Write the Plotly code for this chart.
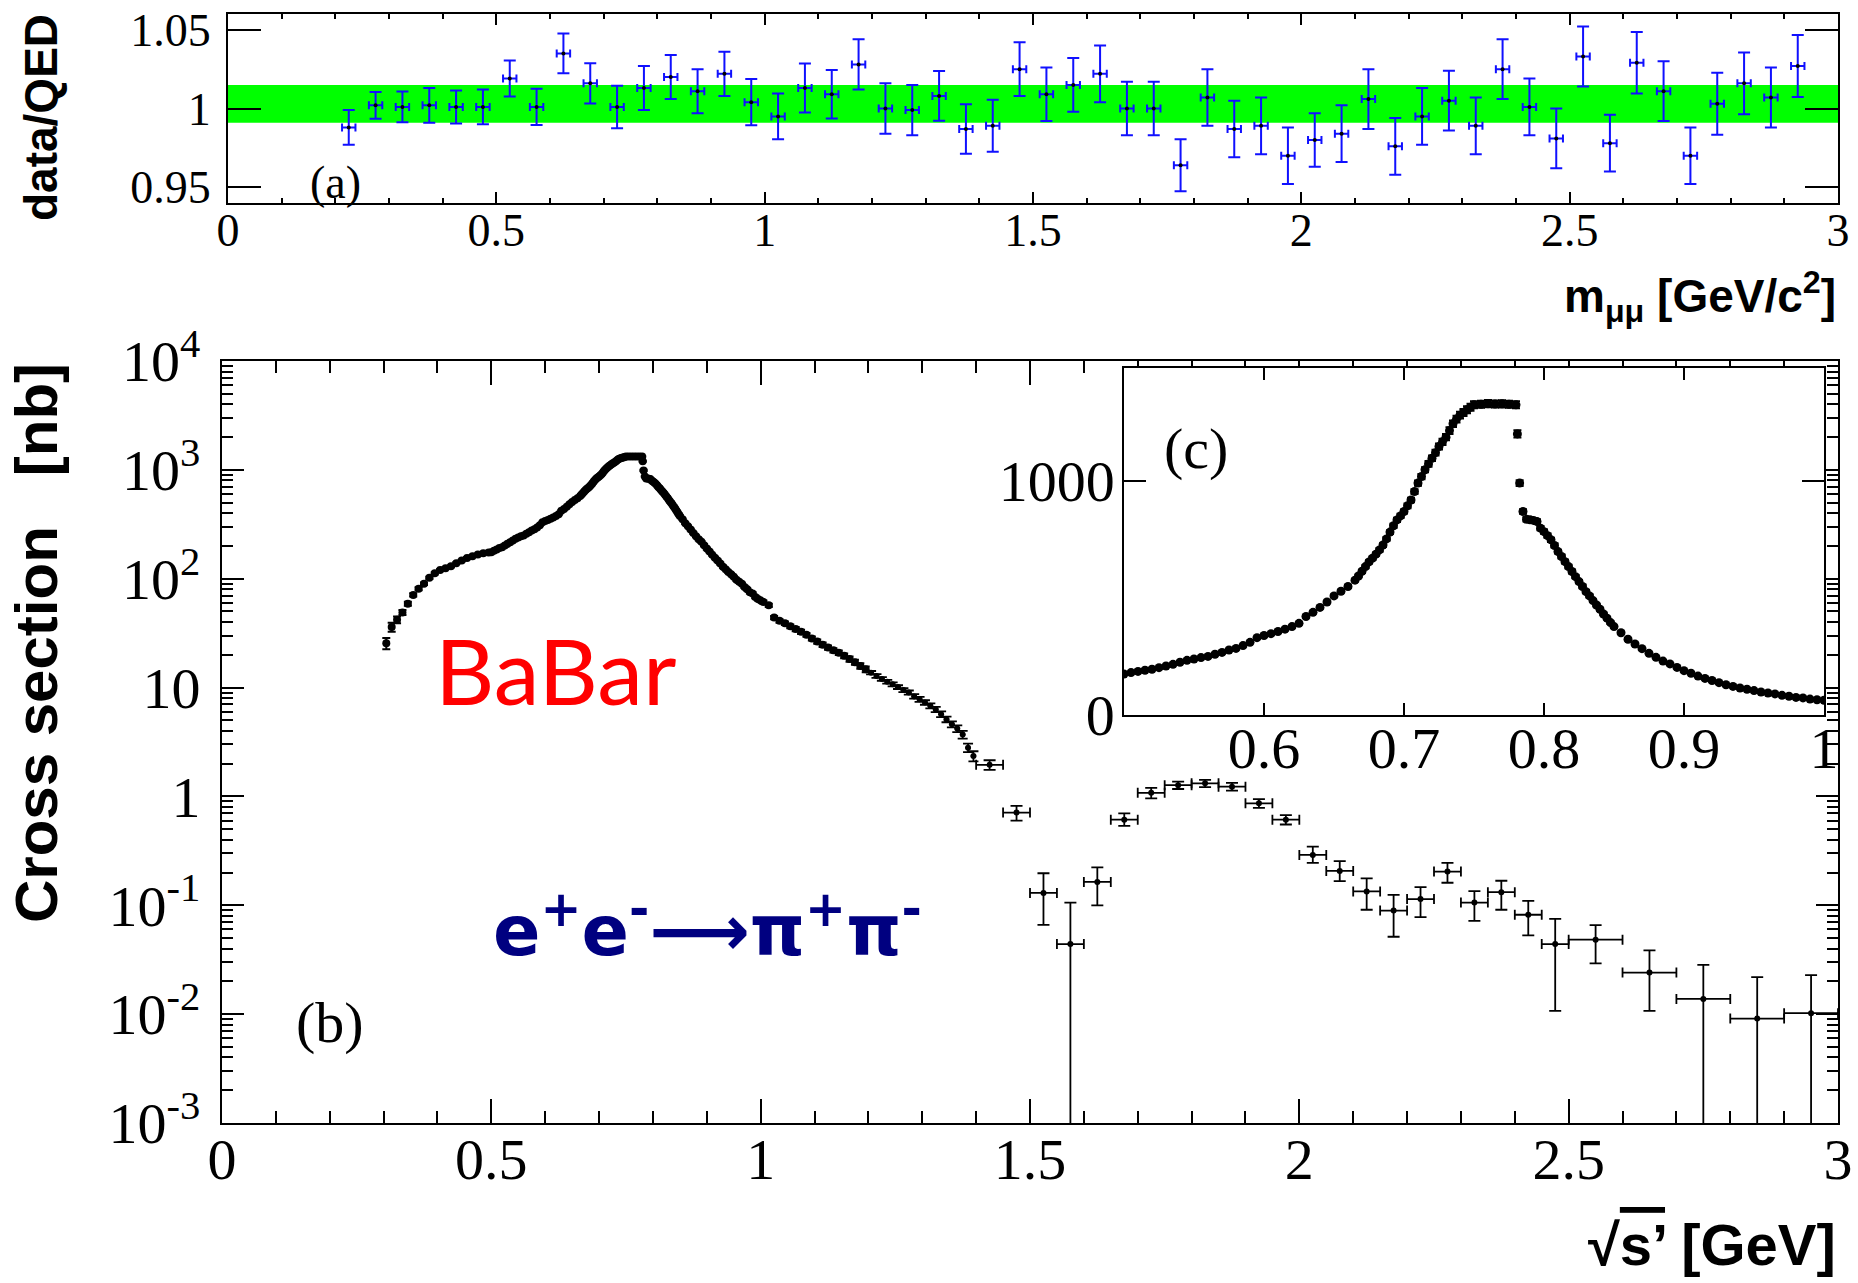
import plotly.graph_objects as go

# ---------------- (a) data / QED ratio for the mu-mu sample ----------------
ratio_m = [0.225, 0.275, 0.325, 0.375, 0.425, 0.475, 0.525, 0.575, 0.625, 0.675,
           0.725, 0.775, 0.825, 0.875, 0.925, 0.975, 1.025, 1.075, 1.125, 1.175,
           1.225, 1.275, 1.325, 1.375, 1.425, 1.475, 1.525, 1.575, 1.625, 1.675,
           1.725, 1.775, 1.825, 1.875, 1.925, 1.975, 2.025, 2.075, 2.125, 2.175,
           2.225, 2.275, 2.325, 2.375, 2.425, 2.475, 2.525, 2.575, 2.625, 2.675,
           2.725, 2.775, 2.825, 2.875, 2.925]
ratio_val = [0.988, 1.002, 1.001, 1.002, 1.001, 1.001, 1.019, 1.001, 1.035, 1.016,
             1.001, 1.013, 1.020, 1.011, 1.022, 1.004, 0.995, 1.013, 1.009, 1.028,
             1.000, 0.999, 1.008, 0.987, 0.989, 1.025, 1.009, 1.015, 1.022, 1.000,
             1.000, 0.964, 1.007, 0.987, 0.989, 0.970, 0.980, 0.984, 1.006, 0.976,
             0.995, 1.005, 0.989, 1.025, 1.001, 0.981, 1.033, 0.978, 1.029, 1.011,
             0.970, 1.003, 1.016, 1.007, 1.027]
ratio_err = [0.011, 0.0085, 0.0098, 0.011, 0.0105, 0.011, 0.0114, 0.0115, 0.0126, 0.0128,
             0.0135, 0.014, 0.014, 0.014, 0.014, 0.0147, 0.0146, 0.0155, 0.0154, 0.016,
             0.016, 0.016, 0.0158, 0.0157, 0.0165, 0.017, 0.017, 0.017, 0.018, 0.017,
             0.017, 0.0165, 0.018, 0.018, 0.018, 0.018, 0.017, 0.018, 0.019, 0.018,
             0.018, 0.019, 0.018, 0.019, 0.018, 0.019, 0.019, 0.018, 0.0195, 0.019,
             0.018, 0.0197, 0.0196, 0.019, 0.0197]
ratio_bin_half = 0.0125
band_lo, band_hi = 0.991, 1.015   # systematic band

# ---------------- (b)/(c) e+e- -> pi+pi- cross section [nb] ----------------
# fine-binned region
rho_x = [0.305, 0.315, 0.325, 0.335, 0.345, 0.355, 0.365, 0.375, 0.385, 0.395,
         0.405, 0.415, 0.425, 0.435, 0.445, 0.455, 0.465, 0.475, 0.485, 0.495,
         0.500, 0.505, 0.510, 0.515, 0.520, 0.525, 0.530, 0.535, 0.540, 0.545,
         0.550, 0.555, 0.560, 0.565, 0.570, 0.575, 0.580, 0.585, 0.590, 0.595,
         0.600, 0.605, 0.610, 0.615, 0.620, 0.625, 0.630, 0.635, 0.640, 0.645,
         0.650, 0.655, 0.660, 0.665, 0.6675, 0.670, 0.6725, 0.675, 0.6775, 0.680,
         0.6825, 0.685, 0.6875, 0.690, 0.6925, 0.695, 0.6975, 0.700, 0.7025, 0.705,
         0.7075, 0.710, 0.7125, 0.715, 0.7175, 0.720, 0.7225, 0.725, 0.7275, 0.730,
         0.7325, 0.735, 0.7375, 0.740, 0.7425, 0.745, 0.7475, 0.750, 0.755, 0.760,
         0.765, 0.770, 0.775, 0.780, 0.781, 0.7826, 0.785, 0.7875, 0.790, 0.7925,
         0.795, 0.7975, 0.800, 0.8025, 0.805, 0.8075, 0.810, 0.8125, 0.815, 0.8175,
         0.820, 0.8225, 0.825, 0.8275, 0.830, 0.8325, 0.835, 0.8375, 0.840, 0.8425,
         0.845, 0.8475, 0.850, 0.855, 0.860, 0.865, 0.870, 0.875, 0.880, 0.885,
         0.890, 0.895, 0.900, 0.905, 0.910, 0.915, 0.920, 0.925, 0.930, 0.935,
         0.940, 0.945, 0.950, 0.955, 0.960, 0.965, 0.970, 0.975, 0.980, 0.985,
         0.990, 0.995, 1.000, 1.005, 1.015, 1.025, 1.035, 1.045, 1.055, 1.065,
         1.075, 1.085, 1.095, 1.105, 1.115, 1.125, 1.135, 1.145, 1.155, 1.165,
         1.175, 1.185, 1.195]
rho_y = [25.5, 36, 42, 49, 59, 71, 81, 90, 102, 112,
         120, 125, 130, 139, 147, 155, 161, 167, 171, 174,
         175, 181, 186, 191, 195, 202, 209, 216, 225, 233,
         239, 245, 250, 259, 267, 277, 284, 296, 310, 330,
         339, 347, 356, 366, 377, 391, 420, 438, 459, 482,
         508, 528, 548, 575, 593, 613, 633, 653, 669, 686,
         704, 725, 751, 780, 807, 832, 849, 868, 892, 917,
         953, 989, 1017, 1046, 1071, 1095, 1119, 1145, 1165, 1185,
         1213, 1242, 1262, 1279, 1290, 1302, 1313, 1323, 1325, 1328,
         1326, 1327, 1325, 1323, 1199, 989, 868, 835, 833, 830,
         825, 797, 782, 765, 747, 723, 697, 676, 654, 633,
         612, 590, 569, 548, 526, 508, 488, 469, 451, 431,
         413, 394, 377, 351, 323, 303, 283, 263, 246, 230,
         218, 203, 189, 178, 166, 156, 147, 138, 129, 122,
         115, 110, 104, 98, 94, 90, 84, 80, 75, 73,
         68, 65, 63, 61, 57, 44, 41, 39, 36.5, 34.5,
         32.5, 30.5, 28.3, 26.5, 24.8, 23.3, 22.0, 20.9, 19.6, 18.3,
         17.1, 15.8, 14.7]
rho_err = [3.0, 3.5, 3.0, 2.5, 2.5, 2.5, 2.5, 2.5, 2.5, 2.5,
           2.5, 2.5, 2.5, 2.5, 2.5, 3, 3, 3, 3, 3,
           3, 3, 3, 3, 3, 3, 3, 3, 3, 3,
           3, 3, 3, 4, 4, 4, 4, 4, 4, 4,
           4, 4, 4, 4, 5, 5, 5, 5, 5, 5,
           6, 6, 6, 6, 6, 7, 7, 7, 7, 7,
           8, 8, 8, 8, 9, 9, 9, 9, 10, 10,
           10, 11, 11, 11, 12, 12, 12, 13, 13, 13,
           14, 14, 14, 14, 15, 15, 15, 15, 15, 15,
           15, 15, 15, 15, 15, 12, 10, 10, 10, 10,
           10, 9, 9, 9, 9, 9, 8, 8, 8, 8,
           8, 7, 7, 7, 7, 7, 6, 6, 6, 6,
           6, 6, 5, 5, 5, 5, 4, 4, 4, 4,
           4, 4, 3, 3, 3, 3, 3, 3, 3, 2,
           2, 2, 2, 2, 2, 2, 2, 2, 2, 2,
           2, 2, 2, 2, 2, 1.5, 1.5, 1.5, 1.5, 1.5,
           1.5, 1.2, 1.2, 1.2, 1.2, 1.0, 1.0, 1.0, 1.0, 1.0,
           0.9, 0.9, 0.9]

# 10 MeV bins
mid_x = [1.205, 1.215, 1.225, 1.235, 1.245, 1.255, 1.265, 1.275, 1.285, 1.295,
         1.305, 1.315, 1.325, 1.335, 1.345, 1.355, 1.365, 1.375, 1.385, 1.395]
mid_y = [13.7, 12.8, 12.0, 11.3, 10.7, 10.1, 9.5, 9.0, 8.3, 7.8,
         7.3, 6.8, 6.3, 5.7, 5.1, 4.6, 4.2, 3.7, 2.8, 2.35]
mid_err = [0.5, 0.5, 0.45, 0.45, 0.45, 0.4, 0.4, 0.4, 0.4, 0.4,
           0.35, 0.35, 0.35, 0.35, 0.3, 0.3, 0.3, 0.3, 0.25, 0.25]
mid_bin_half = 0.005

# wide bins above 1.4 GeV
wide_x = [1.425, 1.475, 1.525, 1.575, 1.625, 1.675, 1.725, 1.775, 1.825, 1.875,
          1.925, 1.975, 2.025, 2.075, 2.125, 2.175, 2.225, 2.275, 2.325, 2.375,
          2.425, 2.475, 2.55, 2.65, 2.75, 2.85, 2.95]
wide_dx = [0.025, 0.025, 0.025, 0.025, 0.025, 0.025, 0.025, 0.025, 0.025, 0.025,
           0.025, 0.025, 0.025, 0.025, 0.025, 0.025, 0.025, 0.025, 0.025, 0.025,
           0.025, 0.025, 0.05, 0.05, 0.05, 0.05, 0.05]
wide_y = [1.95, 0.71, 0.130, 0.044, 0.164, 0.612, 1.08, 1.27, 1.32, 1.23,
          0.864, 0.612, 0.29, 0.207, 0.134, 0.0894, 0.114, 0.204, 0.106, 0.132,
          0.0819, 0.044, 0.0483, 0.0241, 0.0138, 0.0091, 0.0102]
wide_err_up = [0.2, 0.11, 0.067, 0.062, 0.059, 0.087, 0.12, 0.1, 0.1, 0.1,
               0.08, 0.06, 0.056, 0.048, 0.043, 0.035, 0.033, 0.041, 0.029, 0.036,
               0.028, 0.031, 0.0175, 0.0144, 0.0145, 0.0128, 0.0126]
wide_err_dn = [0.2, 0.11, 0.064, 0.044, 0.064, 0.075, 0.12, 0.1, 0.1, 0.1,
               0.08, 0.06, 0.045, 0.04, 0.043, 0.038, 0.036, 0.043, 0.034, 0.041,
               0.029, 0.0333, 0.019, 0.0134, 0.0138, 0.0091, 0.0102]

decades = [1e-3, 1e-2, 1e-1, 1, 10, 1e2, 1e3, 1e4]
decade_text = ["10<sup>-3</sup>", "10<sup>-2</sup>", "10<sup>-1</sup>", "1", "10",
               "10<sup>2</sup>", "10<sup>3</sup>", "10<sup>4</sup>"]

# ---------------- page geometry (pixels of the 1858 x 1283 page) ----------------
W, H = 1858, 1283


def fx(p):
    return p / W


def fy(p):
    return 1 - p / H


SERIF = "Liberation Serif"
SANS = "Liberation Sans"

fig = go.Figure()

# (a) ratio points
fig.add_trace(go.Scatter(
    x=ratio_m, y=ratio_val, mode="markers", xaxis="x", yaxis="y",
    marker=dict(color="black", size=4),
    error_y=dict(type="data", array=ratio_err, color="#1010ff", thickness=2, width=6),
    error_x=dict(type="constant", value=ratio_bin_half, color="#1010ff", thickness=2, width=4),
    hoverinfo="skip"))

# (b) cross section, log scale
fig.add_trace(go.Scatter(
    x=rho_x, y=rho_y, mode="markers", xaxis="x2", yaxis="y2",
    marker=dict(color="black", size=8),
    error_y=dict(type="data", array=rho_err, color="black", thickness=2, width=4),
    hoverinfo="skip"))
fig.add_trace(go.Scatter(
    x=mid_x, y=mid_y, mode="markers", xaxis="x2", yaxis="y2",
    marker=dict(color="black", size=6),
    error_y=dict(type="data", array=mid_err, color="black", thickness=1.8, width=5),
    error_x=dict(type="constant", value=mid_bin_half, color="black", thickness=1.8, width=0),
    hoverinfo="skip"))
fig.add_trace(go.Scatter(
    x=wide_x, y=wide_y, mode="markers", xaxis="x2", yaxis="y2",
    marker=dict(color="black", size=6),
    error_y=dict(type="data", array=wide_err_up, arrayminus=wide_err_dn,
                 color="black", thickness=1.8, width=6),
    error_x=dict(type="data", array=wide_dx, color="black", thickness=1.8, width=5),
    hoverinfo="skip"))

# (c) inset, linear scale
fig.add_trace(go.Scatter(
    x=rho_x, y=rho_y, mode="markers", xaxis="x3", yaxis="y3",
    marker=dict(color="black", size=9),
    error_y=dict(type="data", array=rho_err, color="black", thickness=2, width=4),
    hoverinfo="skip"))

frame = dict(showline=True, linecolor="black", linewidth=2, mirror="allticks",
             ticks="inside", tickcolor="black", showgrid=False, zeroline=False,
             automargin=False)

fig.update_layout(
    width=W, height=H, margin=dict(l=0, r=0, t=0, b=0, pad=0), autosize=False,
    paper_bgcolor="white", plot_bgcolor="white", showlegend=False,
    xaxis=dict(domain=[fx(228), fx(1838)], anchor="y", range=[0, 3],
               tickvals=[0, 0.5, 1, 1.5, 2, 2.5, 3], ticktext=["0", "0.5", "1", "1.5", "2", "2.5", "3"],
               ticklen=11, tickwidth=1.5,
               minor=dict(dtick=0.1, tick0=0, ticks="inside", ticklen=5, tickwidth=1.5, tickcolor="black"),
               tickfont=dict(family=SERIF, size=46, color="black"), ticklabelstandoff=-14, **frame),
    yaxis=dict(domain=[fy(203), fy(14)], anchor="x", range=[0.94, 1.06],
               tickvals=[0.95, 1, 1.05], ticktext=["0.95", "1", "1.05"],
               ticklen=33, tickwidth=2,
               tickfont=dict(family=SERIF, size=46, color="black"), ticklabelstandoff=6, **frame),
    xaxis2=dict(domain=[fx(222), fx(1838)], anchor="y2", range=[0, 3],
                tickvals=[0, 0.5, 1, 1.5, 2, 2.5, 3], ticktext=["0", "0.5", "1", "1.5", "2", "2.5", "3"],
                ticklen=24, tickwidth=1.8,
                minor=dict(dtick=0.1, tick0=0, ticks="inside", ticklen=12, tickwidth=1.8, tickcolor="black"),
                tickfont=dict(family=SERIF, size=58, color="black"), ticklabelstandoff=-16, **frame),
    yaxis2=dict(domain=[fy(1123), fy(361)], anchor="x2", type="log", range=[-3, 4],
                tickvals=decades, ticktext=decade_text,
                ticklen=22, tickwidth=1.8,
                minor=dict(tickmode="array",
                           tickvals=[m * d for d in decades[:-1] for m in range(2, 10)],
                           ticks="inside", ticklen=11, tickwidth=1.8, tickcolor="black"),
                tickfont=dict(family=SERIF, size=58, color="black"), ticklabelstandoff=8, **frame),
    xaxis3=dict(domain=[fx(1124), fx(1824)], anchor="y3", range=[0.5, 1.0],
                tickvals=[0.6, 0.7, 0.8, 0.9, 1.0], ticktext=["0.6", "0.7", "0.8", "0.9", "1"],
                ticklen=12, tickwidth=1.5,
                tickfont=dict(family=SERIF, size=58, color="black"), ticklabelstandoff=-18,
                **dict(frame, linewidth=1.5)),
    yaxis3=dict(domain=[fy(715), fy(368)], anchor="x3", range=[0, 1480],
                tickvals=[0, 1000], ticktext=["0", "1000"],
                ticklen=22, tickwidth=1.5,
                tickfont=dict(family=SERIF, size=58, color="black"), ticklabelstandoff=-4,
                **dict(frame, linewidth=1.5)),
)

# systematic uncertainty band in (a)
fig.add_shape(type="rect", xref="x domain", yref="y", x0=0, x1=1, y0=band_lo, y1=band_hi,
              fillcolor="#00ff00", line=dict(width=0), layer="below")

ann = []
# axis titles
ann.append(dict(text="<b>data/QED</b>", x=fx(41), y=fy(118), textangle=-90,
                font=dict(family=SANS, size=46, color="black")))
ann.append(dict(text="<b>Cross section\u00a0\u00a0\u00a0[nb]</b>", x=fx(37), y=fy(643), textangle=-90,
                font=dict(family=SANS, size=60, color="black")))
ann.append(dict(text="<b>m<sub>\u03bc\u03bc</sub> [GeV/c<sup>2</sup>]</b>", x=fx(1838), y=fy(297),
                xanchor="right", font=dict(family=SANS, size=46, color="black")))
ann.append(dict(text="<b>\u221a<span style='text-decoration:overline'>s\u2019</span> [GeV]</b>",
                x=fx(1838), y=fy(1244), xanchor="right",
                font=dict(family=SANS, size=58, color="black")))
# panel labels
ann.append(dict(text="(a)", x=fx(335), y=fy(183), font=dict(family=SERIF, size=46, color="black")))
ann.append(dict(text="(b)", x=fx(330), y=fy(1022), font=dict(family=SERIF, size=58, color="black")))
ann.append(dict(text="(c)", x=fx(1196), y=fy(448), font=dict(family=SERIF, size=58, color="black")))
# experiment and process
ann.append(dict(text="BaBar", x=fx(556), y=fy(670), font=dict(family="Lato", size=92, color="#ff0000")))
ann.append(dict(text="<b>e<sup>+</sup>e<sup>-</sup>\u27f6\u03c0<sup>+</sup>\u03c0<sup>-</sup></b>",
                x=fx(707), y=fy(926), font=dict(family="DejaVu Sans", size=70, color="#000080")))

for a in ann:
    a.setdefault("xanchor", "center")
    a.update(xref="paper", yref="paper", yanchor="middle", showarrow=False)
fig.update_layout(annotations=ann)

fig.write_html("out.html")
